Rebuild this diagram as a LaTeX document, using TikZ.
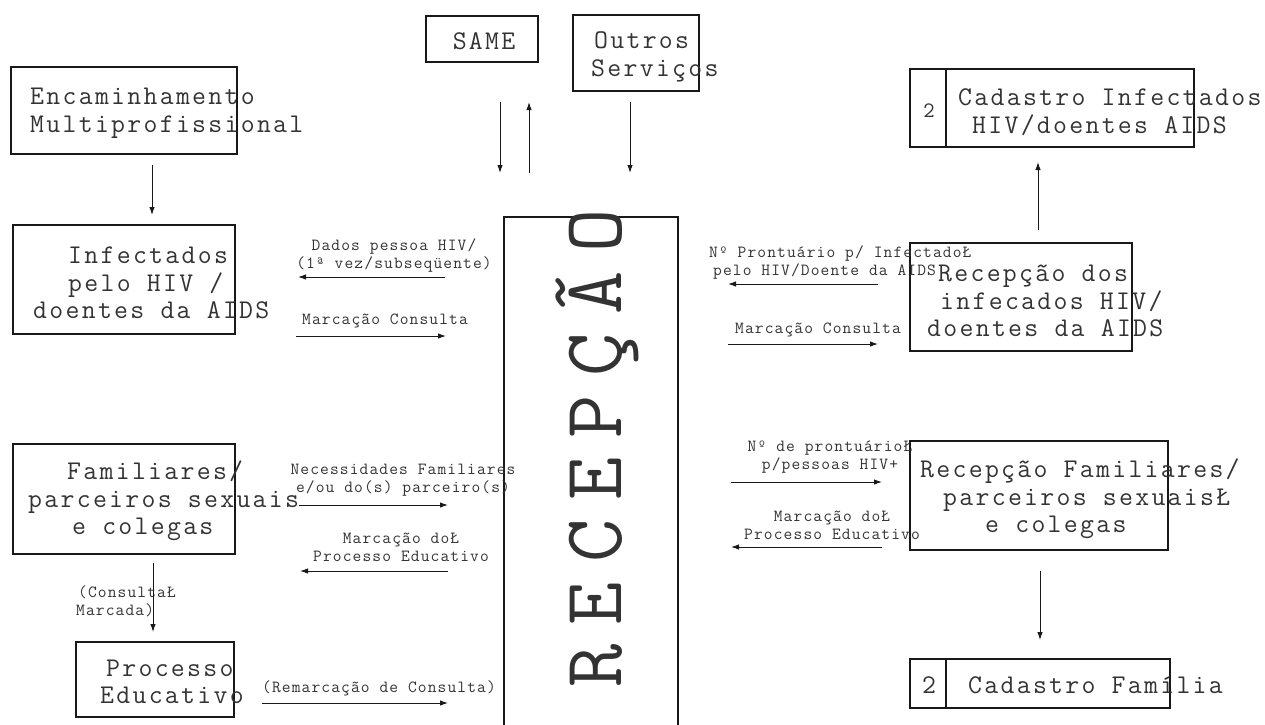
\documentclass[tikz,border=0pt]{standalone}
\usepackage{fontspec}
\usetikzlibrary{arrows.meta}
\newfontfamily\cour{Latin Modern Mono}[LetterSpace=6.6]
\newfontfamily\courb{Latin Modern Mono}[LetterSpace=8.5]
\newfontfamily\courbig{Latin Modern Mono}[LetterSpace=22.5]
\begin{document}
\begin{tikzpicture}[x=1pt,y=-1pt,
  box/.style={draw=black!90, line width=1.2pt, rectangle, inner sep=0pt},
  thickbox/.style={box, line width=2pt},
  big/.style={font=\courb\fontsize{27}{27.5}\selectfont, text=black!80, inner sep=0pt},
  small/.style={font=\cour\fontsize{17}{18}\selectfont, text=black!80, inner sep=0pt},
  arr/.style={draw=black!90, line width=1pt, -{Latex[length=8pt,width=5.5pt]}}]
\useasboundingbox (0,0) rectangle (1265,724);

% boxes
\node[box, minimum width=226pt, minimum height=87pt] (enc) at (124,110.5) {};
\node[box, minimum width=222pt, minimum height=109pt] (inf) at (124,279.5) {};
\node[box, minimum width=222pt, minimum height=110pt] (fam) at (124,499) {};
\node[box, minimum width=158pt, minimum height=75pt] (proc) at (155,679.5) {};
\node[box, minimum width=112pt, minimum height=46pt] (same) at (482,39) {};
\node[box, line width=1.6pt, minimum width=126pt, minimum height=76pt] (outros) at (636,53) {};
\node[box, line width=2.6pt, minimum width=174pt, minimum height=527pt] (recep) at (591,480.5) {};
\node[thickbox, minimum width=284pt, minimum height=78pt] (cadinf) at (1052,108) {};
\node[box, line width=1.4pt, minimum width=222pt, minimum height=108pt] (recinf) at (1021,297) {};
\node[box, line width=1.8pt, minimum width=258pt, minimum height=109pt] (recfam) at (1039,495.5) {};
\node[thickbox, minimum width=260pt, minimum height=49pt] (cadfam) at (1040,683.5) {};
\draw[line width=2pt, black!90] ([xshift=37pt]cadinf.north west) -- ([xshift=37pt]cadinf.south west);
\draw[line width=1.8pt, black!90] ([xshift=37pt]cadfam.north west) -- ([xshift=37pt]cadfam.south west);

% box texts
\node[big, anchor=west, align=left] (tenc) at (30,113) {Encaminhamento\\Multiprofissional};
\node[big, anchor=west, align=left] (tinf) at (33,283) {\hspace*{35pt}Infectados\\\hspace*{35pt}pelo HIV /\\doentes da AIDS};
\node[big, anchor=west, align=left] (tfam) at (28,501) {\hspace*{39pt}Familiares/\\parceiros sexuais\\\hspace*{44pt}e colegas};
\node[big, anchor=west, align=left] (tproc) at (100,682) {\hspace*{6pt}Processo\\Educativo};
\node[big] (tsame) at (484,41) {SAME};
\node[big, anchor=west, align=left] (toutros) at (591,57) {\hspace*{3pt}Outros\\Serviços};
\node[big, rotate=90, font=\courbig\fontsize{84}{84}\selectfont] (trecep) at (597,448) {RECEPÇÃO};
\node[big, font=\courb\fontsize{22}{22}\selectfont] (n2a) at (929,111) {2};
\node[big, anchor=west, align=left] (tcadinf) at (958,112) {Cadastro Infectados\\\hspace*{14pt}HIV/doentes AIDS};
\node[big, anchor=west, align=left] (trecinf) at (927,301) {\hspace*{11pt}Recepção dos\\\hspace*{13pt}infecados HIV/\\doentes da AIDS};
\node[big, anchor=west, align=left] (trecfam) at (920,499) {Recepção Familiares/\\\hspace*{23pt}parceiros sexuaisŁ\\\hspace*{65pt}e colegas};
\node[big] (n2b) at (929,685) {2};
\node[big, anchor=west] (tcadfam) at (968,685) {Cadastro Família};

% labels
\node[small, align=center] (l1) at (394,255) {Dados pessoa HIV/\\(1ª vez/subseqüente)};
\node[small] (l2) at (385,321) {Marcação Consulta};
\node[small, anchor=west, align=left] (l3) at (709,262) {Nº Prontuário p/ InfectadoŁ\\\hspace*{4pt}pelo HIV/Doente da AIDS};
\node[small] (l4) at (818,330) {Marcação Consulta};
\node[small, align=center] (l5) at (403,480) {Necessidades Familiares\\e/ou do(s) parceiro(s)};
\node[small, align=center] (l6) at (401,547) {Marcação doŁ\\Processo Educativo};
\node[small, anchor=west, align=left] (l7) at (76,601) {\hspace*{2pt}(ConsultaŁ\\Marcada)};
\node[small] (l8) at (379,688) {(Remarcação de Consulta)};
\node[small, align=center] (l9) at (830,457) {Nº de prontuárioŁ\\p/pessoas HIV+};
\node[small, align=center] (l10) at (832,525) {Marcação doŁ\\Processo Educativo};

% connector end points
\coordinate (e1a) at (152,165); \coordinate (e1b) at (152,215);
\coordinate (s1a) at (500,102); \coordinate (s1b) at (500,173);
\coordinate (s2a) at (529,173); \coordinate (s2b) at (529,102);
\coordinate (o1a) at (630,102); \coordinate (o1b) at (630,173);
\coordinate (d1a) at (445,277); \coordinate (d1b) at (298,277);
\coordinate (m1a) at (296,336); \coordinate (m1b) at (446,336);
\coordinate (p1a) at (878,284); \coordinate (p1b) at (728,284);
\coordinate (m2a) at (728,344); \coordinate (m2b) at (878,344);
\coordinate (c1a) at (1038,230); \coordinate (c1b) at (1038,162);
\coordinate (n1a) at (299,505); \coordinate (n1b) at (448,505);
\coordinate (md1a) at (448,571); \coordinate (md1b) at (300,571);
\coordinate (cm1a) at (153,563); \coordinate (cm1b) at (153,632);
\coordinate (r1a) at (262,703); \coordinate (r1b) at (448,703);
\coordinate (np1a) at (731,482); \coordinate (np1b) at (882,482);
\coordinate (md2a) at (882,547); \coordinate (md2b) at (731,547);
\coordinate (cf1a) at (1040,571); \coordinate (cf1b) at (1040,640);

\draw[arr] (e1a) -- (e1b);
\draw[arr] (s1a) -- (s1b);
\draw[arr] (s2a) -- (s2b);
\draw[arr] (o1a) -- (o1b);
\draw[arr] (d1a) -- (d1b);
\draw[arr] (m1a) -- (m1b);
\draw[arr] (p1a) -- (p1b);
\draw[arr] (m2a) -- (m2b);
\draw[arr] (c1a) -- (c1b);
\draw[arr] (n1a) -- (n1b);
\draw[arr] (md1a) -- (md1b);
\draw[arr] (cm1a) -- (cm1b);
\draw[arr] (r1a) -- (r1b);
\draw[arr] (np1a) -- (np1b);
\draw[arr] (md2a) -- (md2b);
\draw[arr] (cf1a) -- (cf1b);
\end{tikzpicture}
\end{document}
